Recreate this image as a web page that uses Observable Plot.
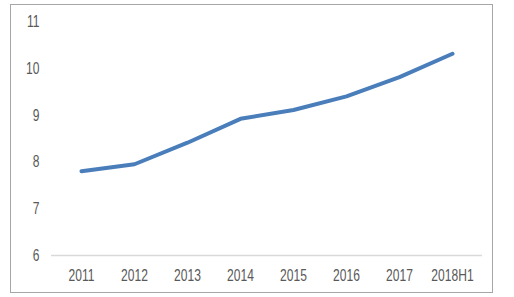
<!DOCTYPE html>
<html>
<head>
<meta charset="utf-8">
<script src="https://cdn.jsdelivr.net/npm/d3@7"></script>
<script src="https://cdn.jsdelivr.net/npm/@observablehq/plot@0.6"></script>
<style>
  html, body { margin: 0; padding: 0; background: #fff; }
  #wrap { position: relative; width: 514px; height: 297px; }
  #border { position: absolute; left: 10px; top: 4px; width: 481px; height: 287px; border: 1px solid #a6a6a6; pointer-events: none; }
</style>
</head>
<body>
<div id="wrap"><div id="border"></div></div>
<script>
const categories = ["2011", "2012", "2013", "2014", "2015", "2016", "2017", "2018H1"];
const values = [7.8, 7.95, 8.41, 8.92, 9.11, 9.40, 9.81, 10.31];
const yTicks = [6, 7, 8, 9, 10, 11];

const data = categories.map((c, i) => ({ cat: c, value: values[i] }));

const chart = Plot.plot({
  width: 514,
  height: 297,
  marginLeft: 51,
  marginRight: 32,
  marginTop: 21,
  marginBottom: 42,
  style: { fontFamily: "'Liberation Sans', Arial, sans-serif", fontSize: "17px", color: "#595959", background: "transparent" },
  x: { type: "point", domain: categories, padding: 0.5, label: null },
  y: { domain: [6, 11], ticks: yTicks, label: null },
  marks: [
    Plot.ruleY([6], { stroke: "#d9d9d9", strokeWidth: 1.5 }),
    Plot.axisX({ tickSize: 0, tickPadding: 13, fill: "#595959" }),
    Plot.axisY({ ticks: yTicks, tickFormat: d => String(d), tickSize: 0, tickPadding: 12, fill: "#595959" }),
    Plot.line(data, { x: "cat", y: "value", stroke: "#4a7ebb", strokeWidth: 4, strokeLinecap: "round", strokeLinejoin: "round" })
  ]
});
chart.style.position = "absolute";
chart.style.left = "0";
chart.style.top = "0";
// condense the tick label glyphs horizontally, like the narrow font of the original
const SX = 0.71;
chart.querySelectorAll("text").forEach(t => {
  const tr = t.getAttribute("transform") || "";
  const x = parseFloat(t.getAttribute("x") || "0");
  if (x) t.setAttribute("x", x / SX);
  t.setAttribute("transform", (tr + ` scale(${SX},1)`).trim());
});
document.getElementById("wrap").insertBefore(chart, document.getElementById("border"));
</script>
</body>
</html>
